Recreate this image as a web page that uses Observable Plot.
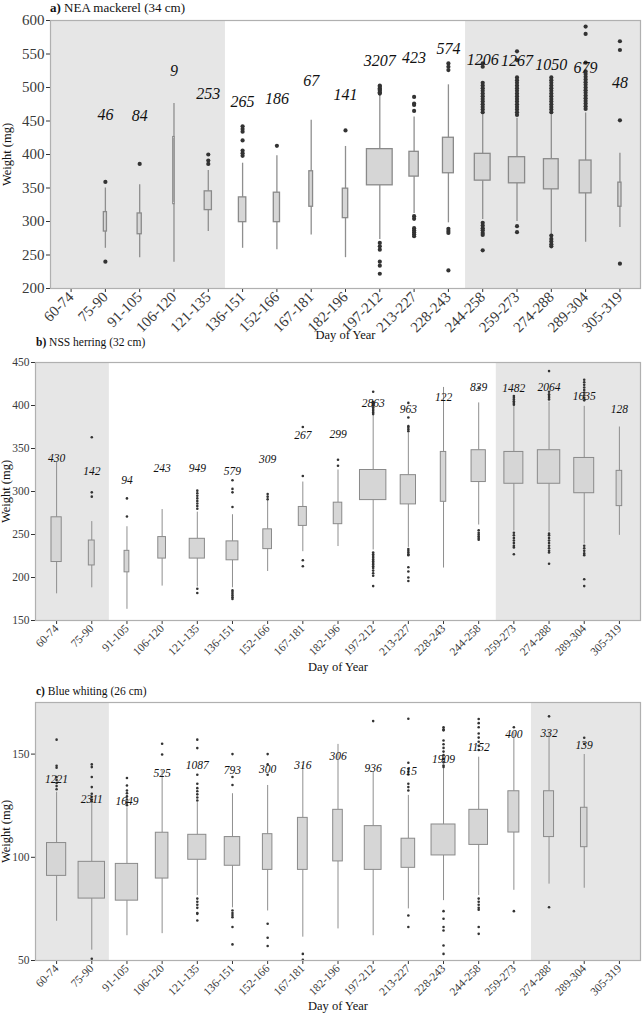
<!DOCTYPE html>
<html><head><meta charset="utf-8">
<script src="https://cdn.jsdelivr.net/npm/d3@7"></script>
<script src="https://cdn.jsdelivr.net/npm/@observablehq/plot@0.6"></script>
<style>
body{margin:0;background:#fff;font-family:"Liberation Serif",serif;}
#root{position:relative;width:642px;height:1013px;overflow:hidden;background:#fff}
.title{position:absolute;white-space:nowrap;line-height:1;color:#111;font-family:"Liberation Serif",serif}
.panel{position:absolute;left:0}
</style></head><body><div id="root"></div>
<script>
const categories = ["60-74","75-90","91-105","106-120","121-135","136-151","152-166","167-181","182-196","197-212","213-227","228-243","244-258","259-273","274-288","289-304","305-319"];

// a) NEA mackerel
const mackerelN = [null,46,84,9,253,265,186,67,141,3207,423,574,1206,1267,1050,679,48];
const mackerelLow = [null,260,246,239,285,260,258,280,246,273,312,298,303,300,280,269,291];
const mackerelQ1 = [null,285,281,326,317,299,299,322,305,354,367,372,361,357,348,342,322];
const mackerelMedian = [null,302,296,371,332,315,318,361,327,380,384,398,381,376,372,365,338];
const mackerelQ3 = [null,314,312,426,345,336,343,375,349,408,404,425,401,396,393,391,358];
const mackerelHigh = [null,350,355,476,376,387,398,451,412,488,456,504,459,454,459,462,402];
const mackerelCountY = [null,459,457,525,491,479,483,510,489,540,544,558,541,539,534,530,507];
const mackerelOutliers = [
  ["75-90",[359,240]],
  ["91-105",[386]],
  ["121-135",[400,391,386]],
  ["136-151",[442,438,434,421,406,402,398]],
  ["152-166",[413]],
  ["182-196",[436]],
  ["197-212",[503,501,499,497,495,493,491,268,263,258,240,234,222]],
  ["213-227",[486,476,474,465,308,304,290,287,284,281,278]],
  ["228-243",[536,531,526,289,286,283,227]],
  ["244-258",[536,531,507,503,499,495,491,487,483,479,475,471,467,463,298,294,290,287,283,280,257]],
  ["259-273",[554,541,515,511,507,503,499,495,491,487,483,479,475,471,467,463,459,293,284]],
  ["274-288",[515,511,507,503,499,495,491,487,483,479,475,471,467,463,279,274,270,266,263]],
  ["289-304",[591,580,537,524,520,516,512,508,504,500,496,492,488,484,480,476,472,468]],
  ["305-319",[569,556,451,237]]
];
const mackerelShade = [["60-74","121-135"],["244-258","305-319"]];
const mackerelTicks = [200,250,300,350,400,450,500,550,600];

// b) NSS herring
const herringN = [430,142,94,243,949,579,309,267,299,2863,963,122,839,1482,2064,1635,128];
const herringLow = [181,188,163,190,189,188,207,230,236,232,235,211,261,254,253,239,249];
const herringQ1 = [218,214,206,222,222,220,233,260,262,290,285,288,311,309,309,298,283];
const herringMedian = [239,228,217,237,233,230,243,274,274,306,302,314,330,328,328,318,305];
const herringQ3 = [270,243,231,247,245,242,256,282,287,325,319,346,348,346,348,339,324];
const herringHigh = [334,265,259,279,276,273,290,311,325,389,368,421,403,399,404,399,375];
const herringCountY = [339,323,313,327,327,324,338,365,367,402,396,409,421,420,421,411,396];
const herringOutliers = [
  ["75-90",[363,299,294]],
  ["91-105",[292,271]],
  ["121-135",[301,298,295,292,289,286,283,280,187,182]],
  ["136-151",[313,303,299,282,185,183,181,179,177,175]],
  ["152-166",[297,294,291]],
  ["167-181",[375,318,220,213]],
  ["182-196",[337,330]],
  ["197-212",[416,404,402,400,398,396,394,392,390,229,227,225,223,221,219,217,215,213,211,208,205,202,190]],
  ["213-227",[403,386,376,374,372,370,233,231,229,227,226,212,207,200,196]],
  ["244-258",[420,255,252,250,248,246,244]],
  ["259-273",[411,409,407,405,403,401,252,249,246,243,240,237,235,227]],
  ["274-288",[440,416,413,411,409,407,251,249,246,243,240,237,234,231,229,216]],
  ["289-304",[430,427,424,421,418,415,412,409,406,237,234,231,228,226,198,190]]
];
const herringShade = [["60-74","75-90"],["259-273","305-319"]];
const herringTicks = [150,200,250,300,350,400,450];

// c) Blue whiting
const whitingN = [1221,2311,1649,525,1087,793,300,316,306,936,615,1909,1152,400,332,139,null];
const whitingLow = [69,55,62,63,81.5,75.5,74,61.3,65.3,62,75,79,81.5,84,87,85,null];
const whitingQ1 = [91,80,79,89.7,98.8,95.9,93.9,93.9,98,93.9,94.9,100.9,106,112,109.8,104.9,null];
const whitingMedian = [97.8,88.1,86.8,99.9,105.1,102.8,102.2,105.1,110,104,102,108,113.8,121,119,115.1,null];
const whitingQ3 = [106.9,97.8,96.8,111.9,110.9,109.8,111.2,119.1,123,115.1,109,115.9,123,132,132,124,null];
const whitingHigh = [131.5,126,124,142,126.5,130.8,134.8,144.5,154.7,141.3,130,142.9,148.5,160.7,160.7,149.8,null];
const whitingCountY = [137.7,128,127.2,140.8,144.5,142,142.4,144.5,148.9,142.9,141.8,147.3,153.4,159.4,159.9,154.2,null];
const whitingOutliers = [
  ["60-74",[157,144.3,143.4,138.9,137.5,136,134.5,133]],
  ["75-90",[145,143.7,138.9,134,130.8,129.3,128,127,50.8]],
  ["91-105",[138.4,134.8,132.4,131,129.5,128,126.5,125.2]],
  ["106-120",[155,149.8]],
  ["121-135",[157,152.9,140,135.6,133.5,132,130.5,129,127.5,80,78.5,77,75.5,73,72.6,69.4]],
  ["136-151",[150,138.9,135,74.2,73,72,71,66.2,57.8]],
  ["152-166",[150,145,140,67.8,61,57]],
  ["167-181",[53.2,50.3]],
  ["197-212",[166]],
  ["213-227",[167.1,145.8,142.9,141.5,140.1,135.6,134,132.4,71.8,66.2]],
  ["228-243",[163,162,161.5,156.6,154.8,153,151.2,149.5,147.7,146,144.5,143.7,73.9,70.2,66.2,64.5,57.3,53.2]],
  ["244-258",[167,165,163,160,158,156,154,152,80,78.5,77,75.5,74.6,66.2,62.9]],
  ["259-273",[163,73.9]],
  ["274-288",[168.3,75.8]],
  ["289-304",[157.9,155]]
];
const whitingShade = [["60-74","75-90"],["274-288","305-319"]];
const whitingTicks = [50,100,150];

const root = document.getElementById("root");
const SERIF = "'Liberation Serif', 'Times New Roman', Times, serif";

function drawPanel(cfg) {
  const rows = categories.map((c, i) => ({
    i, c, n: cfg.n[i], lo: cfg.low[i], q1: cfg.q1[i], med: cfg.median[i],
    q3: cfg.q3[i], hi: cfg.high[i], cy: cfg.countY[i]
  })).filter(d => d.n != null);
  const nmax = d3.max(rows, d => d.n);
  rows.forEach(d => d.hw = 0.375 * Math.sqrt(d.n / nmax));
  const outs = cfg.outliers.flatMap(([c, vs]) => vs.map(v => ({i: categories.indexOf(c), v})));
  const last = categories.length - 1;
  const dom = [-0.6, last + 0.6];
  const shades = cfg.shade.map(([a, b]) => {
    const i = categories.indexOf(a), j = categories.indexOf(b);
    return {x1: i === 0 ? dom[0] : i - 0.5, x2: j === last ? dom[1] : j + 0.5,
            y1: cfg.yDomain[0], y2: cfg.yDomain[1]};
  });

  const chart = Plot.plot({
    width: 642,
    height: cfg.height,
    marginTop: cfg.marginTop,
    marginBottom: cfg.marginBottom,
    marginLeft: cfg.marginLeft,
    marginRight: 2,
    style: {fontSize: cfg.tickFont + "px", color: "#333", background: "transparent", overflow: "visible"},
    x: {
      domain: dom, ticks: d3.range(categories.length), tickFormat: i => categories[i],
      tickRotate: -45, tickSize: 4, tickPadding: 2,
      label: "Day of Year", labelAnchor: "center", labelOffset: cfg.xLabelOffset, labelArrow: "none"
    },
    y: {
      domain: cfg.yDomain, ticks: cfg.yTicks, tickSize: 4, tickPadding: 2,
      label: "Weight (mg)", labelAnchor: "center", labelOffset: cfg.yLabelOffset, labelArrow: "none"
    },
    marks: [
      Plot.rect(shades, {x1: "x1", x2: "x2", y1: "y1", y2: "y2", fill: "#e6e6e6"}),
      Plot.ruleX(rows, {x: "i", y1: "lo", y2: "q1", stroke: "#8f8f8f", strokeWidth: cfg.whisker}),
      Plot.ruleX(rows, {x: "i", y1: "q3", y2: "hi", stroke: "#8f8f8f", strokeWidth: cfg.whisker}),
      Plot.rect(rows, {x1: d => d.i - d.hw, x2: d => d.i + d.hw, y1: "q1", y2: "q3",
        fill: "#d6d6d6", stroke: "#8a8a8a", strokeWidth: cfg.whisker}),
      Plot.ruleY(rows, {y: "med", x1: d => d.i - d.hw, x2: d => d.i + d.hw, stroke: "#4a4a4a", strokeWidth: cfg.median}),
      Plot.dot(outs, {x: "i", y: "v", r: cfg.dotR, fill: "#333", stroke: null}),
      Plot.text(rows, {x: "i", y: "cy", text: d => String(d.n), fontStyle: "italic",
        fontSize: cfg.countFont, fill: "#111"}),
      Plot.frame({stroke: "#b0b0b0", strokeWidth: 1.2})
    ]
  });
  chart.classList.add("panel");
  chart.style.top = cfg.top + "px";
  chart.style.position = "absolute";
  chart.setAttribute("font-family", SERIF);
  chart.style.fontFamily = SERIF;
  chart.querySelectorAll("g, text").forEach(el => {
    if (el.hasAttribute("font-family")) el.setAttribute("font-family", SERIF);
    if (el.tagName === "text") el.style.fontFamily = SERIF;
  });
  chart.querySelectorAll('g[aria-label="x-axis label"], g[aria-label="y-axis label"]').forEach(g => {
    g.setAttribute("font-size", 12.5);
    g.querySelectorAll("text").forEach(el => { el.style.fontSize = "12.5px"; el.style.fill = "#111"; });
  });
  chart.querySelectorAll('g[aria-label="x-axis tick label"] text, g[aria-label="y-axis tick label"] text').forEach(el => {
    el.style.fill = "#3a3a3a";
  });
  root.appendChild(chart);

  const t = document.createElement("div");
  t.className = "title";
  t.style.left = cfg.titleLeft + "px";
  t.style.top = cfg.titleTop + "px";
  t.style.fontSize = cfg.titleFont + "px";
  const b = document.createElement("b");
  b.textContent = cfg.letter;
  t.appendChild(b);
  t.appendChild(document.createTextNode(" " + cfg.title));
  root.appendChild(t);
}

drawPanel({
  letter: "a)", title: "NEA mackerel (34 cm)", titleLeft: 50, titleTop: 1, titleFont: 13,
  top: 0, height: 342, marginTop: 20, marginBottom: 54, marginLeft: 50,
  n: mackerelN, low: mackerelLow, q1: mackerelQ1, median: mackerelMedian, q3: mackerelQ3,
  high: mackerelHigh, countY: mackerelCountY, outliers: mackerelOutliers, shade: mackerelShade,
  yDomain: [200, 600], yTicks: mackerelTicks,
  tickFont: 15, countFont: 16, dotR: 2.1, whisker: 1.3, median: 2,
  xLabelOffset: 50, yLabelOffset: 48
});
drawPanel({
  letter: "b)", title: "NSS herring (32 cm)", titleLeft: 36, titleTop: 337, titleFont: 11.5,
  top: 342, height: 330, marginTop: 20, marginBottom: 52, marginLeft: 35,
  n: herringN, low: herringLow, q1: herringQ1, median: herringMedian, q3: herringQ3,
  high: herringHigh, countY: herringCountY, outliers: herringOutliers, shade: herringShade,
  yDomain: [150, 450], yTicks: herringTicks,
  tickFont: 11.5, countFont: 11.5, dotR: 1.3, whisker: 1, median: 1.6,
  xLabelOffset: 50, yLabelOffset: 34.5
});
drawPanel({
  letter: "c)", title: "Blue whiting (26 cm)", titleLeft: 36, titleTop: 686, titleFont: 11.5,
  top: 672, height: 341, marginTop: 30, marginBottom: 53, marginLeft: 35,
  n: whitingN, low: whitingLow, q1: whitingQ1, median: whitingMedian, q3: whitingQ3,
  high: whitingHigh, countY: whitingCountY, outliers: whitingOutliers, shade: whitingShade,
  yDomain: [50, 175], yTicks: whitingTicks,
  tickFont: 11.5, countFont: 11.5, dotR: 1.3, whisker: 1, median: 1.6,
  xLabelOffset: 49, yLabelOffset: 34.5
});
</script></body></html>
